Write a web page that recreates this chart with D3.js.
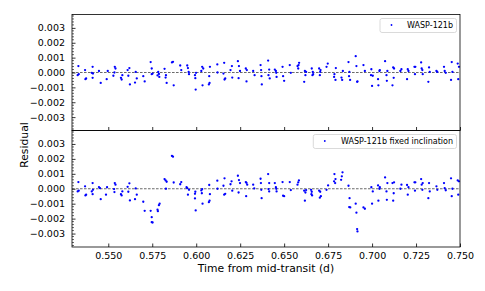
<!DOCTYPE html>
<html><head><meta charset="utf-8">
<script src="https://cdn.jsdelivr.net/npm/d3@7"></script>
<style>html,body{margin:0;padding:0;background:#fff;}svg{display:block;}</style>
</head><body>
<svg id="chart" width="485" height="291"></svg>
<script>
const xTicks = [0.550,0.575,0.600,0.625,0.650,0.675,0.700,0.725,0.750];
const yTicks = [-0.003,-0.002,-0.001,0.000,0.001,0.002,0.003];
const xLabel = "Time from mid-transit (d)";
const yLabel = "Residual";
const topLegend = "WASP-121b";
const bottomLegend = "WASP-121b fixed inclination";

const topTime = [0.5330,0.5326,0.5332,0.5368,0.5370,0.5374,0.5406,0.5411,0.5411,0.5413,0.5447,0.5457,0.5491,0.5497,0.5535,0.5537,0.5541,0.5529,0.5572,0.5576,0.5580,0.5610,0.5614,0.5620,0.5623,0.5652,0.5656,0.5662,0.5699,0.5707,0.5741,0.5747,0.5747,0.5752,0.5784,0.5788,0.5790,0.5780,0.5820,0.5826,0.5832,0.5828,0.5862,0.5868,0.5872,0.5909,0.5915,0.5949,0.5953,0.5957,0.5959,0.5993,0.5995,0.5997,0.5999,0.6029,0.6034,0.6036,0.6040,0.6072,0.6076,0.6078,0.6074,0.6120,0.6121,0.6159,0.6161,0.6165,0.6155,0.6195,0.6203,0.6205,0.6237,0.6243,0.6241,0.6249,0.6282,0.6286,0.6288,0.6324,0.6332,0.6366,0.6369,0.6371,0.6373,0.6409,0.6415,0.6418,0.6411,0.6447,0.6453,0.6457,0.6455,0.6491,0.6494,0.6500,0.6532,0.6538,0.6576,0.6582,0.6585,0.6580,0.6614,0.6618,0.6621,0.6625,0.6657,0.6661,0.6665,0.6663,0.6699,0.6703,0.6707,0.6705,0.6741,0.6748,0.6786,0.6792,0.6794,0.6784,0.6826,0.6830,0.6834,0.6866,0.6871,0.6875,0.6869,0.6907,0.6911,0.6915,0.6917,0.6951,0.6959,0.6996,0.7000,0.7004,0.6994,0.7034,0.7036,0.7042,0.7044,0.7074,0.7082,0.7084,0.7087,0.7116,0.7120,0.7123,0.7125,0.7161,0.7167,0.7199,0.7203,0.7207,0.7241,0.7244,0.7246,0.7279,0.7282,0.7286,0.7288,0.7320,0.7324,0.7328,0.7366,0.7371,0.7409,0.7413,0.7419,0.7449,0.7453,0.7457,0.7487,0.7490,0.7494];
const topResidual = [0.00043,-0.00018,-0.00011,0.00016,-0.00045,-0.00040,-0.00002,0.00038,-0.00036,-0.00007,0.00010,-0.00070,-0.00045,0.00010,0.00000,0.00038,0.00027,-0.00022,-0.00036,-0.00047,-0.00018,0.00016,-0.00022,0.00030,-0.00080,-0.00068,0.00004,-0.00040,-0.00025,-0.00060,0.00070,0.00027,-0.00011,-0.00007,0.00004,-0.00010,-0.00030,-0.00020,0.00025,-0.00034,-0.00070,-0.00018,0.00068,0.00072,-0.00086,0.00047,0.00016,0.00047,0.00030,0.00004,-0.00011,-0.00018,-0.00038,-0.00115,-0.00002,0.00010,0.00038,-0.00086,0.00027,-0.00080,-0.00070,0.00038,-0.00025,0.00054,0.00000,0.00065,-0.00047,-0.00040,-0.00007,0.00016,0.00043,-0.00034,0.00076,0.00043,-0.00038,0.00010,0.00027,-0.00060,0.00016,0.00010,-0.00018,0.00050,0.00016,-0.00025,-0.00080,0.00080,0.00020,-0.00040,-0.00018,0.00020,0.00010,-0.00030,-0.00002,0.00038,-0.00025,-0.00056,0.00050,-0.00002,0.00043,0.00050,0.00065,0.00027,-0.00063,0.00010,-0.00018,0.00004,0.00027,-0.00018,-0.00011,0.00004,0.00027,-0.00018,0.00016,0.00004,0.00038,0.00060,-0.00011,-0.00050,0.00030,-0.00030,-0.00034,-0.00050,0.00010,0.00070,0.00004,-0.00050,-0.00025,0.00110,0.00043,-0.00063,-0.00060,0.00050,0.00010,0.00022,-0.00090,-0.00022,-0.00018,-0.00045,-0.00086,0.00010,0.00016,0.00076,-0.00018,-0.00056,0.00010,-0.00086,0.00034,-0.00036,0.00027,0.00010,0.00022,-0.00045,0.00022,0.00010,0.00038,-0.00011,0.00038,0.00068,0.00027,0.00016,-0.00011,-0.00063,0.00034,0.00004,0.00010,0.00004,0.00038,0.00010,-0.00002,-0.00050,0.00070,0.00004,0.00060,-0.00045,0.00038];

const bottomTime = [0.5330,0.5326,0.5332,0.5368,0.5370,0.5374,0.5406,0.5411,0.5411,0.5413,0.5447,0.5453,0.5457,0.5487,0.5493,0.5535,0.5537,0.5541,0.5533,0.5572,0.5576,0.5580,0.5610,0.5614,0.5620,0.5623,0.5652,0.5656,0.5662,0.5699,0.5707,0.5741,0.5747,0.5747,0.5752,0.5780,0.5782,0.5788,0.5792,0.5820,0.5826,0.5832,0.5828,0.5862,0.5868,0.5872,0.5909,0.5915,0.5945,0.5949,0.5953,0.5959,0.5993,0.5993,0.5997,0.5995,0.6029,0.6034,0.6036,0.6032,0.6072,0.6076,0.6078,0.6074,0.6120,0.6121,0.6155,0.6161,0.6159,0.6165,0.6195,0.6201,0.6205,0.6237,0.6243,0.6241,0.6249,0.6282,0.6286,0.6284,0.6290,0.6324,0.6330,0.6366,0.6368,0.6370,0.6372,0.6409,0.6415,0.6411,0.6415,0.6447,0.6453,0.6457,0.6455,0.6491,0.6494,0.6500,0.6532,0.6538,0.6576,0.6580,0.6584,0.6614,0.6618,0.6621,0.6625,0.6653,0.6655,0.6659,0.6657,0.6699,0.6703,0.6709,0.6705,0.6741,0.6750,0.6786,0.6792,0.6790,0.6784,0.6824,0.6828,0.6832,0.6866,0.6872,0.6876,0.6870,0.6907,0.6911,0.6915,0.6917,0.6951,0.6959,0.6996,0.7000,0.7004,0.7034,0.7036,0.7042,0.7044,0.7074,0.7082,0.7084,0.7087,0.7116,0.7120,0.7123,0.7125,0.7161,0.7167,0.7199,0.7203,0.7207,0.7241,0.7244,0.7246,0.7279,0.7282,0.7286,0.7288,0.7320,0.7324,0.7328,0.7366,0.7371,0.7409,0.7413,0.7419,0.7449,0.7453,0.7457,0.7487,0.7490,0.7494];
const bottomResidual = [0.00045,-0.00018,-0.00013,0.00016,-0.00045,-0.00040,-0.00018,0.00038,-0.00036,-0.00007,0.00011,0.00004,-0.00070,-0.00040,0.00010,-0.00022,0.00038,0.00027,-0.00002,-0.00036,-0.00045,-0.00018,0.00013,-0.00020,0.00036,-0.00078,-0.00070,0.00002,-0.00040,-0.00087,-0.00148,-0.00148,-0.00190,-0.00224,-0.00226,-0.00140,-0.00150,-0.00110,-0.00100,0.00065,0.00056,0.00047,0.00000,0.00220,0.00215,0.00042,0.00030,0.00045,0.00010,0.00004,-0.00040,-0.00007,-0.00034,-0.00065,-0.00145,-0.00020,-0.00011,-0.00002,-0.00100,-0.00030,-0.00090,-0.00080,-0.00036,0.00025,0.00054,0.00000,0.00020,0.00070,-0.00040,-0.00034,0.00030,0.00050,-0.00013,0.00087,0.00058,-0.00025,0.00038,0.00045,0.00040,-0.00050,0.00027,0.00027,0.00002,0.00067,0.00038,-0.00007,-0.00063,0.00098,0.00038,-0.00002,-0.00018,0.00038,0.00010,-0.00018,0.00000,0.00045,-0.00047,-0.00050,0.00045,-0.00009,0.00027,0.00043,0.00056,-0.00013,-0.00080,-0.00025,-0.00009,-0.00007,-0.00036,-0.00045,-0.00020,-0.00013,-0.00060,-0.00050,-0.00020,-0.00007,0.00022,0.00098,0.00065,0.00038,0.00050,0.00060,0.00083,0.00110,0.00020,-0.00063,-0.00125,-0.00123,-0.00100,-0.00160,-0.00270,-0.00286,-0.00125,-0.00134,0.00010,-0.00100,-0.00018,0.00022,-0.00080,0.00000,0.00010,0.00076,-0.00018,-0.00074,0.00038,0.00038,-0.00080,-0.00030,0.00043,0.00000,0.00027,0.00025,-0.00040,0.00010,0.00043,-0.00013,0.00043,0.00065,0.00027,-0.00007,0.00038,-0.00063,0.00038,-0.00018,0.00016,-0.00007,0.00038,0.00004,-0.00010,0.00070,-0.00050,0.00000,0.00056,-0.00040,0.00050];

const svg = d3.select("#chart");
const left = 72, right = 460;
const font = "DejaVu Sans, sans-serif";
const x = d3.scaleLinear().domain([0.52937, 0.750]).range([left, right]);
const fmt = v => d3.format(".3f")(v).replace("-", "\u2212");

const panels = [
  {top: 14.5, bottom: 130.5, t: topTime, r: topResidual, legend: topLegend, lx0: 380, showX: false},
  {top: 130.5, bottom: 247, t: bottomTime, r: bottomResidual, legend: bottomLegend, lx0: 313.3, showX: true}
];

panels.forEach(p => {
  const y = d3.scaleLinear().domain([-0.0039, 0.0039]).range([p.bottom, p.top]);
  const g = svg.append("g");
  g.append("line").attr("x1", left).attr("x2", right).attr("y1", y(0)).attr("y2", y(0))
    .attr("stroke", "#444").attr("stroke-width", 0.8).attr("stroke-dasharray", "2.6,1.4");
  g.selectAll("circle").data(p.t.map((t, i) => [t, p.r[i]])).join("circle")
    .attr("cx", d => x(d[0])).attr("cy", d => y(d[1])).attr("r", 1.15).attr("fill", "#0000ff");
  const yAxis = d3.axisLeft(y).tickValues(yTicks).tickFormat(fmt).tickSizeInner(-3.5).tickSizeOuter(0).tickPadding(7);
  const ya = g.append("g").attr("transform", `translate(${left},0)`).call(yAxis);
  ya.select(".domain").remove();
  ya.selectAll("text").attr("font-family", font).attr("font-size", "9.5px").attr("fill", "#000");
  ya.selectAll("line").attr("stroke", "#000").attr("stroke-width", 0.8);
  const minor = d3.range(-38, 39, 2).map(v => v / 10000).filter(v => Math.abs(Math.round(v * 1000) - v * 1000) > 1e-6);
  g.append("g").selectAll("line").data(minor).join("line")
    .attr("x1", left).attr("x2", left + 2).attr("y1", d => y(d)).attr("y2", d => y(d))
    .attr("stroke", "#000").attr("stroke-width", 0.6);
  const xAxis = d3.axisBottom(x).tickValues(xTicks).tickFormat(p.showX ? d3.format(".3f") : () => "")
    .tickSizeInner(-3.5).tickSizeOuter(0).tickPadding(5.5);
  const xa = g.append("g").attr("transform", `translate(0,${p.bottom})`).call(xAxis);
  xa.select(".domain").remove();
  xa.selectAll("text").attr("font-family", font).attr("font-size", "9.5px").attr("fill", "#000");
  xa.selectAll("line").attr("stroke", "#000").attr("stroke-width", 0.8);
  g.append("rect").attr("x", left).attr("y", p.top).attr("width", right - left).attr("height", p.bottom - p.top)
    .attr("fill", "none").attr("stroke", "#000").attr("stroke-width", 0.8);
  const lg = g.append("g");
  lg.append("rect").attr("x", p.lx0).attr("y", p.top + 4).attr("width", 456.5 - p.lx0).attr("height", 14)
    .attr("rx", 2).attr("fill", "#fff").attr("fill-opacity", 0.8).attr("stroke", "#d0d0d0").attr("stroke-width", 0.8);
  lg.append("circle").attr("cx", p.lx0 + 11.5).attr("cy", p.top + 10.5).attr("r", 0.9).attr("fill", "#0000ff");
  lg.append("text").attr("x", 453).attr("y", p.top + 13.8).attr("text-anchor", "end")
    .attr("font-family", font).attr("font-size", "8px").attr("fill", "#000").text(p.legend);
});

svg.append("text").attr("x", (left + right) / 2).attr("y", 271.5).attr("text-anchor", "middle")
  .attr("font-family", font).attr("font-size", "10.8px").attr("fill", "#000").text(xLabel);
svg.append("text").attr("transform", "translate(27.5,145) rotate(-90)").attr("text-anchor", "middle")
  .attr("font-family", font).attr("font-size", "10.8px").attr("fill", "#000").text(yLabel);
</script>
</body></html>
